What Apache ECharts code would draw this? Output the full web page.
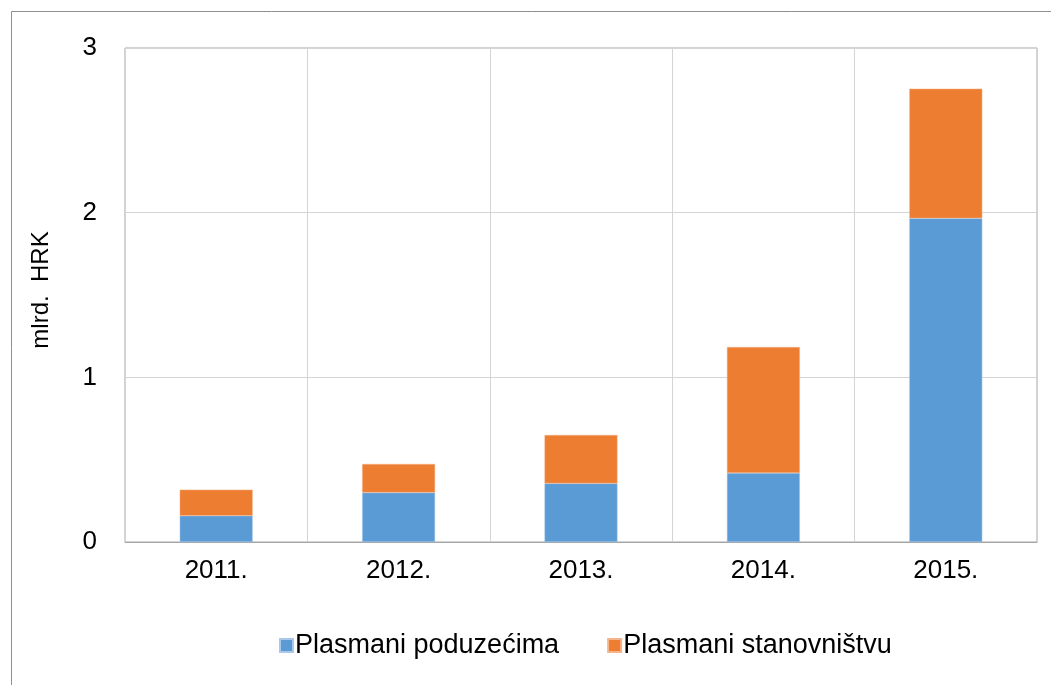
<!DOCTYPE html>
<html>
<head>
<meta charset="utf-8">
<script src="https://cdn.jsdelivr.net/npm/echarts@6/dist/echarts.min.js"></script>
<style>
  html, body { margin: 0; padding: 0; background: #fff; }
  #chart { width: 1051px; height: 685px; }
</style>
</head>
<body>
<div id="chart"></div>
<script>
const years = ['2011.', '2012.', '2013.', '2014.', '2015.'];
const poduzecima = [0.16, 0.30, 0.356, 0.419, 1.966];
const stanovnistvu = [0.158, 0.174, 0.294, 0.765, 0.787];
const yTicks = { min: 0, max: 3, interval: 1 };

const font = 'Liberation Sans, Arial, sans-serif';

const chart = echarts.init(document.getElementById('chart'));
chart.setOption({
    animation: false,
    graphic: [{
        type: 'rect',
        shape: { x: 11.5, y: 11.5, width: 1100, height: 700 },
        style: { fill: 'none', stroke: '#8f8f8f', lineWidth: 1 },
        silent: true
    }],
    grid: {
        left: 125, right: 14, top: 48, bottom: 143,
        show: true, borderColor: '#a6a6a6', borderWidth: 1
    },
    legend: {
        top: 627,
        left: 274,
        itemWidth: 13,
        itemHeight: 13,
        itemGap: 48,
        icon: 'rect',
        textStyle: { fontFamily: font, fontSize: 27, color: '#000', padding: [0, 0, 0, -3] },
        data: ['Plasmani poduzećima', 'Plasmani stanovništvu']
    },
    xAxis: {
        type: 'category',
        data: years,
        axisLine: { lineStyle: { color: '#a6a6a6' } },
        axisTick: { show: false },
        axisLabel: { fontFamily: font, fontSize: 26, color: '#000', margin: 16 },
        splitLine: { show: true, lineStyle: { color: '#d4d4d4' } }
    },
    yAxis: {
        type: 'value',
        min: yTicks.min, max: yTicks.max, interval: yTicks.interval,
        name: 'mlrd.  HRK',
        nameLocation: 'middle',
        nameGap: 72,
        nameTextStyle: { fontFamily: font, fontSize: 24, color: '#000', padding: [0, 0, 0, 10] },
        axisLine: { show: false },
        axisTick: { show: false },
        axisLabel: { fontFamily: font, fontSize: 26, color: '#000', margin: 28 },
        splitLine: { lineStyle: { color: '#d4d4d4' } }
    },
    series: [
        {
            name: 'Plasmani poduzećima',
            type: 'bar',
            stack: 'total',
            barWidth: '40%',
            itemStyle: { color: '#5B9BD5', borderColor: '#a9c8ea', borderWidth: 0.5 },
            data: poduzecima
        },
        {
            name: 'Plasmani stanovništvu',
            type: 'bar',
            stack: 'total',
            barWidth: '40%',
            itemStyle: { color: '#ED7D31', borderColor: '#f5b58a', borderWidth: 0.5 },
            data: stanovnistvu
        }
    ]
});
</script>
</body>
</html>
